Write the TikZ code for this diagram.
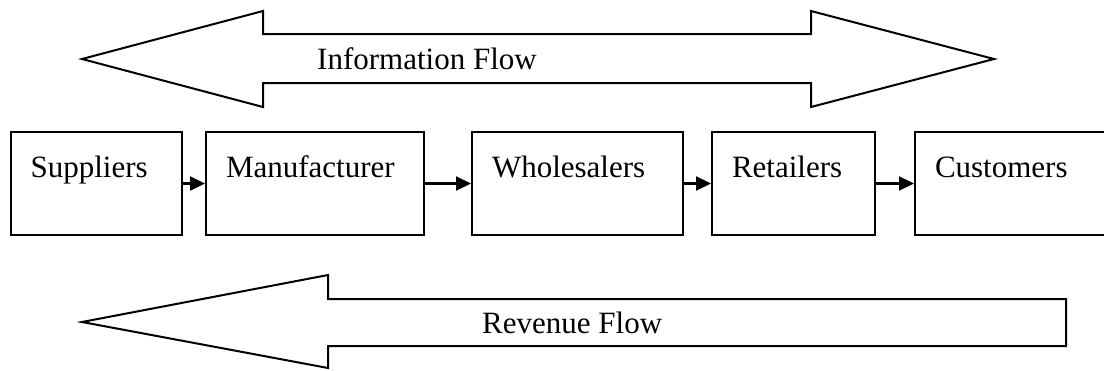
\documentclass[tikz,border=0pt]{standalone}
\usepackage{fontspec}
\setmainfont{Liberation Serif}
\usetikzlibrary{arrows.meta}

\tikzset{
  outline/.style={draw=black, line width=2pt, line join=miter},
  stage/.style={outline, anchor=north west, inner xsep=20pt, inner ysep=0pt,
    text height=45pt, text depth=58pt, align=left,
    font=\fontsize{31}{37}\selectfont},
  flowtext/.style={anchor=base west, inner sep=0pt, font=\fontsize{31}{37}\selectfont},
  link/.style={line width=2.2pt, -{Triangle[length=15pt,width=14pt]}}
}

\begin{document}
\begin{tikzpicture}[x=1pt, y=-1pt]
  \useasboundingbox (0,0) rectangle (1104,370);
  \clip (0,0) rectangle (1104,370);

  % two-headed arrow for the flow of information
  \draw[outline] (82,59) -- (263,11) -- (263,34) -- (811,34) -- (811,11) -- (994,59)
    -- (811,107) -- (811,83) -- (263,83) -- (263,107) -- cycle;
  \node[flowtext] (info) at (317,69) {Information Flow};

  % chain of stages
  \node[stage, text width=131pt] (sup) at (9.6,131) {Suppliers};
  \node[stage, text width=178pt] (man) at (205,131) {Manufacturer};
  \node[stage, text width=171pt] (who) at (471,131) {Wholesalers};
  \node[stage, text width=123pt] (ret) at (711,131) {Retailers};
  \node[stage, text width=180pt] (cus) at (914,131) {Customers};

  \draw[link] (sup.east) -- (man.west);
  \draw[link] (man.east) -- (who.west);
  \draw[link] (who.east) -- (ret.west);
  \draw[link] (ret.east) -- (cus.west);

  % one-headed arrow for the flow of revenue
  \draw[outline] (82,322) -- (328,275) -- (328,299) -- (1066,299) -- (1066,346)
    -- (328,346) -- (328,368) -- cycle;
  \node[flowtext] (rev) at (482,333) {Revenue Flow};
\end{tikzpicture}
\end{document}
